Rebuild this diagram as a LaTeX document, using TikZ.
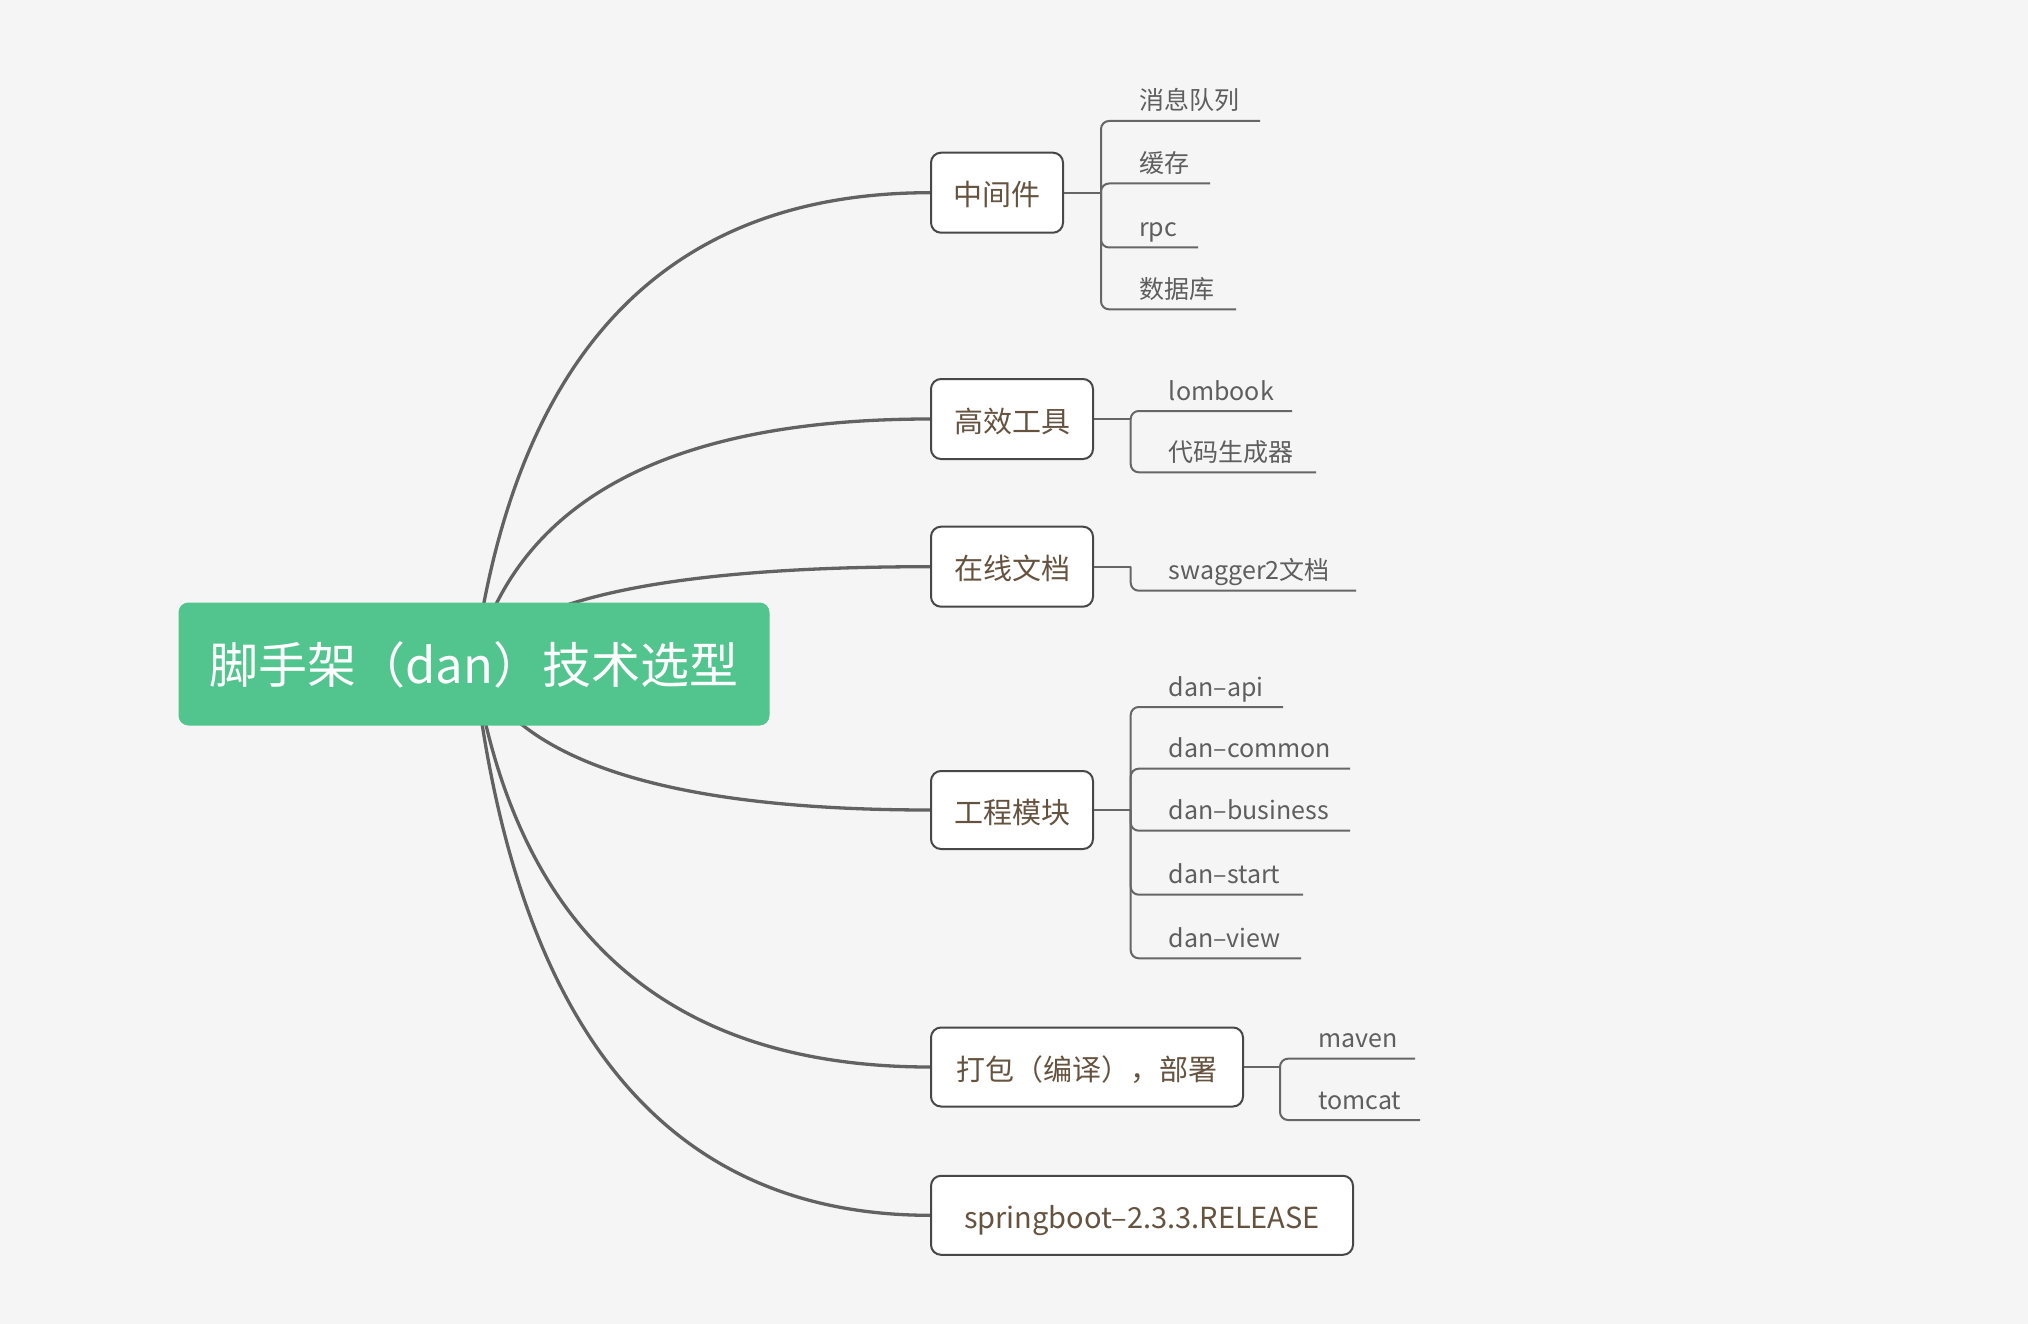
\documentclass[tikz,border=0pt]{standalone}
\usepackage{fontspec}
\setmainfont{Noto Sans CJK SC}
\usetikzlibrary{calc}
\definecolor{bgc}{HTML}{F5F5F5}
\definecolor{rootgreen}{HTML}{52C48D}
\definecolor{curvec}{HTML}{626262}
\definecolor{boxline}{HTML}{474747}
\definecolor{boxtext}{HTML}{65533F}
\definecolor{leaftext}{HTML}{5E5E5E}
\definecolor{leafl}{HTML}{666666}
\pgfdeclarelayer{bglayer}
\pgfdeclarelayer{curvelayer}
\pgfsetlayers{bglayer,curvelayer,main}
\newcommand\leafitem[7]{%
  \node[leaf] (#2) at (#3+38,#5-11) {#7};
  \draw[leafline] (#1.east) -- (#3,#4);
  \draw[leafline,rounded corners=8pt] (#3,#4) -- (#3,#5) -- (#6,#5);
}
\begin{document}
\begin{tikzpicture}[x=1pt,y=-1pt,
  rootbox/.style={fill=rootgreen, rounded corners=10pt, text=white, inner sep=0pt,
    minimum width=591pt, minimum height=123pt, text height=38pt, text depth=0pt,
    font=\fontsize{49}{56}\selectfont},
  topicbox/.style={draw=boxline, line width=2pt, fill=white, rounded corners=10pt,
    text=boxtext, inner sep=0pt, minimum height=80pt, text height=26pt, text depth=0pt,
    font=\fontsize{29}{34}\selectfont},
  leaf/.style={anchor=base west, inner sep=0pt, text=leaftext, font=\fontsize{25}{30}\selectfont},
  leafline/.style={draw=leafl, line width=2pt},
  curveline/.style={draw=curvec, line width=3.3pt}]
\begin{pgfonlayer}{bglayer}
\fill[bgc] (0,0) rectangle (2028,1324);
\end{pgfonlayer}
\useasboundingbox (0,0) rectangle (2028,1324);

\node[rootbox] (root) at (474,664) {脚手架（dan）技术选型};
\coordinate (rc) at (537,664);

\node[topicbox, minimum width=132pt] (m1) at (997,192.7) {中间件};
\node[topicbox, minimum width=162pt] (m2) at (1012,419) {高效工具};
\node[topicbox, minimum width=162pt] (m3) at (1012,566.7) {在线文档};
\node[topicbox, minimum width=162pt, minimum height=78pt] (m4) at (1012,810) {工程模块};
\node[topicbox, minimum width=312pt, minimum height=79pt] (m5) at (1087,1067) {打包（编译），部署};
\node[topicbox, minimum width=422pt, minimum height=79pt] (m6) at (1142,1215.3) {springboot–2.3.3.RELEASE};

\begin{pgfonlayer}{curvelayer}
\foreach \m in {m1,m2,m3,m4,m5,m6}{
  \coordinate (q) at (rc |- \m.west);
  \draw[curveline] (root.center) .. controls ($(root.center)!0.6667!(q)$) and ($(\m.west)!0.6667!(q)$) .. (\m.west);
}
\end{pgfonlayer}

\leafitem{m1}{a1}{1101}{192.7}{121}{1260}{消息队列}
\leafitem{m1}{a2}{1101}{192.7}{183.5}{1210}{缓存}
\leafitem{m1}{a3}{1101}{192.7}{247.5}{1198}{rpc}
\leafitem{m1}{a4}{1101}{192.7}{309.3}{1236}{数据库}

\leafitem{m2}{b1}{1130.7}{419}{411}{1292}{lombook}
\leafitem{m2}{b2}{1130.7}{419}{472.3}{1316}{代码生成器}

\leafitem{m3}{c1}{1130.7}{566.7}{590.7}{1356}{swagger2文档}

\leafitem{m4}{d1}{1130.7}{810}{707}{1283}{dan–api}
\leafitem{m4}{d2}{1130.7}{810}{768.7}{1350}{dan–common}
\leafitem{m4}{d3}{1130.7}{810}{830.7}{1350}{dan–business}
\leafitem{m4}{d4}{1130.7}{810}{894.7}{1303}{dan–start}
\leafitem{m4}{d5}{1130.7}{810}{958.3}{1301}{dan–view}

\leafitem{m5}{e1}{1280}{1067}{1058.7}{1415}{maven}
\leafitem{m5}{e2}{1280}{1067}{1120}{1420}{tomcat}
\end{tikzpicture}
\end{document}
